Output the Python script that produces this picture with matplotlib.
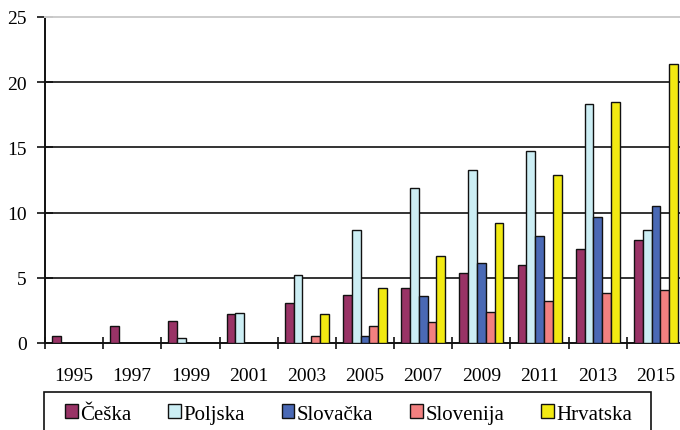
import matplotlib
matplotlib.use("Agg")
import matplotlib.pyplot as plt
import numpy as np
from matplotlib.patches import Rectangle, Patch

years = ["1995", "1997", "1999", "2001", "2003", "2005", "2007", "2009", "2011", "2013", "2015"]
series_names = ["Češka", "Poljska", "Slovačka", "Slovenija", "Hrvatska"]
ceska     = [0.5, 1.3, 1.7, 2.2, 3.1, 3.7, 4.2, 5.4, 6.0, 7.2, 7.9]
poljska   = [0.0, 0.0, 0.35, 2.3, 5.2, 8.7, 11.9, 13.3, 14.7, 18.3, 8.7]
slovacka  = [0.0, 0.0, 0.0, 0.0, 0.0, 0.5, 3.6, 6.1, 8.2, 9.7, 10.5]
slovenija = [0.0, 0.0, 0.0, 0.0, 0.5, 1.3, 1.6, 2.4, 3.2, 3.8, 4.1]
hrvatska  = [0.0, 0.0, 0.0, 0.0, 2.2, 4.2, 6.7, 9.2, 12.9, 18.5, 21.4]
y_ticks = [0, 5, 10, 15, 20, 25]

series = [ceska, poljska, slovacka, slovenija, hrvatska]
colors = ["#993366", "#CCEEF4", "#4A69B5", "#F28080", "#F2EA12"]

plt.rcParams['font.family'] = ['Liberation Serif', 'DejaVu Serif']

W, H = 680, 431
fig = plt.figure(figsize=(W / 100, H / 100), dpi=100)
ax = fig.add_axes([45 / W, 1 - 344 / H, 640 / W, (344 - 18) / H])

x = np.arange(len(years))
bw = 0.151
for j, (vals, col) in enumerate(zip(series, colors)):
    xs = x + (j - 2) * bw
    v = np.array(vals)
    m = v > 0
    ax.bar(xs[m], v[m], width=bw, color=col, edgecolor="#111111", linewidth=1.0, zorder=3)

ax.set_xlim(-0.5, len(years) - 0.5)
ax.set_ylim(0, 25)
ax.set_yticks(y_ticks)
ax.set_yticklabels([str(t) for t in y_ticks])
for t in y_ticks[1:-1]:
    ax.axhline(t, color="#333333", linewidth=1.4, zorder=1)

ax.set_xticks(x)
ax.set_xticklabels(years)
ax.set_xticks(np.arange(-0.5, len(years) + 0.5, 1), minor=True)
ax.tick_params(axis='x', which='major', length=0, pad=17, labelsize=14)
ax.tick_params(axis='x', which='minor', length=9, width=1.2, direction='inout', color="#111111")
ax.tick_params(axis='y', length=12, width=1.2, direction='inout', pad=7, labelsize=14, color="#111111")

for s in ["left", "bottom"]:
    ax.spines[s].set_color("#111111")
    ax.spines[s].set_linewidth(1.4)
ax.spines["top"].set_color("#cccccc")
ax.spines["top"].set_linewidth(1.4)
ax.spines["right"].set_visible(False)

# legend frame
fig.patches.append(Rectangle((44 / W, 1 - 445 / H), (651 - 44) / W, (445 - 393) / H,
                             transform=fig.transFigure, fill=False, edgecolor="#111111",
                             linewidth=1.2, zorder=5))
handles = [Patch(facecolor=c, edgecolor="#111111", linewidth=1.0) for c in colors]
leg = fig.legend(handles, series_names, loc="center left", bbox_to_anchor=(65 / W, 1 - 415 / H),
                 ncol=5, frameon=False, fontsize=15, handlelength=0.62, handleheight=0.62,
                 handletextpad=0.12, columnspacing=1.75, borderaxespad=0, borderpad=0)

fig.savefig("out.png", dpi=100)
